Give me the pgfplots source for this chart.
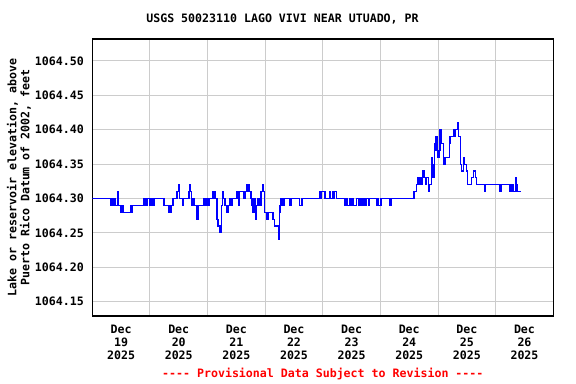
\documentclass[border=0pt]{standalone}
\usepackage{pgfplots}
\pgfplotsset{compat=1.18}
\usepackage{fontspec}
\newfontfamily\usgs{DejaVu Sans Mono}
\definecolor{gridgray}{RGB}{204,204,204}
\begin{document}
\begin{tikzpicture}
\useasboundingbox (0,0) rectangle (576bp,384bp);
\begin{axis}[
  name=ax,
  at={(92.3bp,68bp)}, anchor=south west,
  scale only axis, width=461bp, height=277bp,
  xmin=0, xmax=192, ymin=1064.129, ymax=1064.532,
  axis line style={black, line width=1.2bp},
  grid=major,
  major grid style={gridgray, line width=1bp},
  major tick length=0pt,
  xtick={0,24,48,72,96,120,144,168,192},
  xticklabels={},
  extra x ticks={12,36,60,84,108,132,156,180},
  extra x tick labels={Dec\\19\\2025,Dec\\20\\2025,Dec\\21\\2025,Dec\\22\\2025,Dec\\23\\2025,Dec\\24\\2025,Dec\\25\\2025,Dec\\26\\2025},
  extra x tick style={grid=none, major tick length=0pt},
  xticklabel style={align=center, yshift=-5.5bp},
  ytick={1064.15,1064.20,1064.25,1064.30,1064.35,1064.40,1064.45,1064.50},
  yticklabel style={xshift=-5bp},
  tick label style={font=\usgs\bfseries\fontsize{11.6bp}{13bp}\selectfont},
  /pgf/number format/.cd, fixed, fixed zerofill, precision=2, 1000 sep={}, assume math mode=true,
  /pgfplots/.cd,
  every axis y label/.style={at={(axis description cs:-0.159,0.5)}, rotate=90, anchor=center},
  ylabel={Lake or reservoir elevation, above\\Puerto Rico Datum of 2002, feet},
  ylabel style={align=center, font=\usgs\bfseries\fontsize{11.6bp}{13bp}\selectfont},
  clip=true,
]
\addplot[const plot, blue, line width=1.1bp] coordinates {
(0,1064.30) (7.66,1064.29) (8.20,1064.30) (8.62,1064.29) (9.04,1064.30) (9.45,1064.29)
(10.41,1064.31) (10.70,1064.29) (11.95,1064.28) (12.37,1064.29) (12.79,1064.28)
(16.12,1064.29) (16.41,1064.28) (16.74,1064.29) (21.53,1064.30) (21.82,1064.29)
(22.16,1064.30) (22.57,1064.29) (22.99,1064.30) (24.03,1064.29) (24.32,1064.30)
(24.66,1064.29) (24.99,1064.30) (25.28,1064.29) (25.70,1064.30) (29.86,1064.29)
(31.94,1064.28) (32.78,1064.29) (33.61,1064.30) (35.28,1064.31) (36.11,1064.32)
(36.40,1064.30) (37.57,1064.29) (37.90,1064.30) (40.27,1064.31) (40.57,1064.32)
(40.98,1064.31) (41.23,1064.30) (41.52,1064.29) (41.94,1064.30) (42.36,1064.29)
(43.61,1064.27) (44.15,1064.29) (46.52,1064.30) (47.15,1064.29) (47.35,1064.30)
(47.77,1064.29) (48.61,1064.30) (50.27,1064.31) (51.10,1064.30) (51.94,1064.27)
(52.35,1064.26) (53.19,1064.25) (53.89,1064.29) (54.14,1064.30) (54.44,1064.31)
(54.73,1064.30) (55.27,1064.29) (56.10,1064.28) (56.64,1064.29) (57.35,1064.30)
(57.77,1064.29) (58.18,1064.30) (60.27,1064.31) (60.89,1064.29) (61.31,1064.31)
(63.18,1064.30) (63.60,1064.31) (64.43,1064.32) (65.26,1064.31) (66.10,1064.30)
(66.51,1064.29) (66.93,1064.28) (67.35,1064.30) (67.76,1064.29) (67.97,1064.27)
(68.30,1064.29) (69.01,1064.30) (69.30,1064.29) (69.64,1064.30) (69.97,1064.29)
(70.26,1064.31) (70.80,1064.32) (71.39,1064.31) (71.80,1064.28) (72.47,1064.27)
(73.18,1064.28) (75.26,1064.27) (75.97,1064.26) (77.55,1064.24) (77.88,1064.28)
(78.17,1064.29) (78.59,1064.30) (79.42,1064.29) (80.13,1064.30) (82.34,1064.29)
(82.76,1064.30) (86.38,1064.29) (87.34,1064.30) (94.54,1064.31) (95.13,1064.30)
(95.46,1064.31) (96.92,1064.30) (98.71,1064.31) (99.29,1064.30) (100.12,1064.31)
(100.54,1064.30) (100.87,1064.31) (101.79,1064.30) (105.25,1064.29) (106.08,1064.30)
(106.37,1064.29) (107.33,1064.30) (108.04,1064.29) (108.58,1064.30) (108.87,1064.29)
(110.12,1064.30) (110.79,1064.29) (111.29,1064.30) (111.62,1064.29) (112.12,1064.30)
(112.45,1064.29) (112.87,1064.30) (113.58,1064.29) (114.28,1064.30) (114.95,1064.29)
(115.37,1064.30) (118.45,1064.29) (118.99,1064.30) (119.28,1064.29) (120.03,1064.30)
(120.24,1064.29) (120.53,1064.30) (123.99,1064.29) (124.70,1064.30) (133.98,1064.31)
(135.11,1064.32) (135.65,1064.33) (136.07,1064.32) (136.36,1064.33) (136.90,1064.32)
(137.32,1064.33) (137.73,1064.34) (138.15,1064.33) (138.98,1064.32) (139.27,1064.33)
(139.94,1064.31) (140.36,1064.32) (141.36,1064.36) (141.61,1064.35) (141.90,1064.33)
(142.44,1064.38) (142.73,1064.37) (143.15,1064.39) (143.56,1064.37) (143.98,1064.36)
(144.40,1064.37) (144.81,1064.40) (145.23,1064.39) (145.52,1064.38) (146.19,1064.35)
(146.48,1064.36) (146.90,1064.35) (147.19,1064.36) (148.69,1064.38) (148.98,1064.39)
(150.64,1064.40) (150.94,1064.39) (151.19,1064.40) (152.02,1064.41) (152.31,1064.40)
(152.60,1064.39) (153.27,1064.36) (153.43,1064.35) (153.85,1064.34) (154.68,1064.36)
(154.93,1064.35) (155.93,1064.34) (156.35,1064.32) (158.02,1064.33) (158.68,1064.34)
(159.68,1064.33) (160.10,1064.32) (163.26,1064.31) (163.56,1064.32) (169.80,1064.31)
(170.51,1064.32) (173.97,1064.31) (174.38,1064.32) (174.80,1064.31) (175.09,1064.32)
(175.34,1064.31) (176.47,1064.33) (176.76,1064.32) (177.01,1064.31) (178.55,1064.31)
};
\end{axis}
\node[font=\usgs\bfseries\fontsize{11.6bp}{13bp}\selectfont, anchor=center] at (282.5bp,365bp) {USGS 50023110 LAGO VIVI NEAR UTUADO, PR};
\node[font=\usgs\bfseries\fontsize{11.6bp}{13bp}\selectfont, text=red, anchor=center] at (322.8bp,9.7bp) {---- Provisional Data Subject to Revision ----};
\end{tikzpicture}
\end{document}
